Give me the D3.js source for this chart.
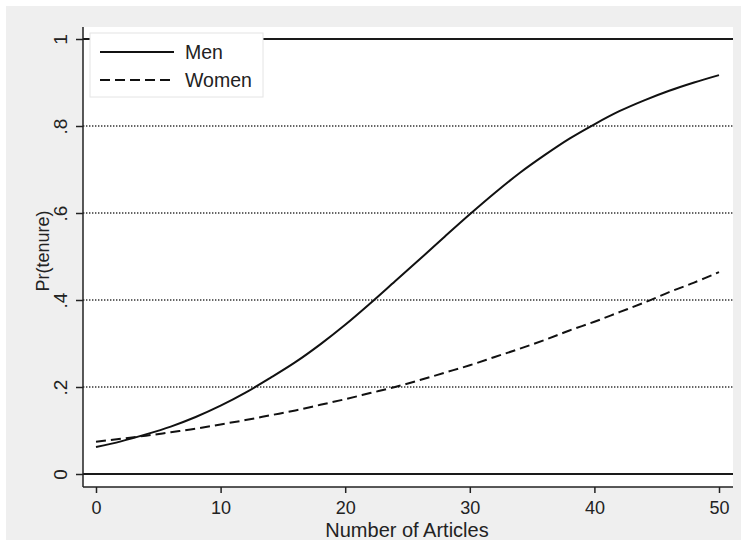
<!DOCTYPE html>
<html>
<head>
<meta charset="utf-8">
<script src="https://cdn.jsdelivr.net/npm/d3@7"></script>
<style>
  html, body { margin: 0; padding: 0; background: #ffffff; }
  svg { display: block; font-family: "Liberation Sans", Arial, sans-serif; }
</style>
</head>
<body>
<svg id="chart" width="741" height="540"></svg>
<script>
// Predicted probability of tenure by number of articles
const articles = [0, 2, 4, 6, 8, 10, 12, 14, 16, 18, 20, 22, 24, 26, 28, 30, 32, 34, 36, 38, 40, 42, 44, 46, 48, 50];
const men = [0.062, 0.075, 0.091, 0.109, 0.131, 0.157, 0.187, 0.221, 0.257, 0.298, 0.343, 0.392, 0.443, 0.494, 0.546, 0.597, 0.646, 0.692, 0.733, 0.771, 0.804, 0.834, 0.859, 0.881, 0.900, 0.917];
const women = [0.074, 0.081, 0.088, 0.096, 0.104, 0.114, 0.124, 0.135, 0.146, 0.159, 0.172, 0.186, 0.200, 0.216, 0.233, 0.250, 0.269, 0.288, 0.308, 0.330, 0.350, 0.372, 0.394, 0.418, 0.440, 0.464];
const xTicks = [0, 10, 20, 30, 40, 50];
const xTickLabels = ["0", "10", "20", "30", "40", "50"];
const yTicks = [0, 0.2, 0.4, 0.6, 0.8, 1];
const yTickLabels = ["0", ".2", ".4", ".6", ".8", "1"];
const seriesNames = ["Men", "Women"];

const FONT = '"Liberation Sans", Arial, sans-serif';
const svg = d3.select("#chart");
const W = 741, H = 540;

// outer graph region
svg.append("rect").attr("x", 6).attr("y", 6).attr("width", W - 6).attr("height", H - 6).attr("fill", "#efefef");

// plot region
const plot = { left: 83, right: 733, top: 27, bottom: 487 };
svg.append("rect")
  .attr("x", plot.left).attr("y", plot.top)
  .attr("width", plot.right - plot.left).attr("height", plot.bottom - plot.top)
  .attr("fill", "#ffffff");

const x = d3.scaleLinear().domain([0, 50]).range([96, 719]);
const y = d3.scaleLinear().domain([0, 1]).range([474, 39]);

// horizontal reference lines: solid at 0 and 1, dotted in between
yTicks.forEach(t => {
  const solid = (t === 0 || t === 1);
  svg.append("line")
    .attr("x1", plot.left).attr("x2", plot.right)
    .attr("y1", y(t)).attr("y2", y(t))
    .attr("stroke", solid ? "#1a1a1a" : "#333333")
    .attr("stroke-width", solid ? 2 : 1.4)
    .attr("stroke-dasharray", solid ? null : "1.4,1.6");
});

// y axis
const yAxis = d3.axisLeft(y).tickValues(yTicks).tickFormat((d, i) => yTickLabels[i]).tickSize(7).tickPadding(0);
const gy = svg.append("g").attr("transform", `translate(${plot.left},0)`).call(yAxis)
  .attr("font-family", FONT);
gy.select(".domain").attr("d", `M0,${plot.top}V${plot.bottom}`).attr("stroke", "#222").attr("stroke-width", 1.5);
gy.selectAll(".tick line").attr("stroke", "#222").attr("stroke-width", 1.5);
gy.selectAll(".tick text")
  .attr("font-size", 19).attr("fill", "#222")
  .attr("x", null).attr("dy", null)
  .attr("text-anchor", "middle")
  .attr("transform", "translate(-23,0) rotate(-90)")
  .attr("dominant-baseline", "central");

// x axis
const xAxis = d3.axisBottom(x).tickValues(xTicks).tickFormat((d, i) => xTickLabels[i]).tickSize(6).tickPadding(8);
const gx = svg.append("g").attr("transform", `translate(0,${plot.bottom})`).call(xAxis)
  .attr("font-family", FONT);
gx.select(".domain").attr("d", `M${plot.left},0H${plot.right}`).attr("stroke", "#222").attr("stroke-width", 1.5);
gx.selectAll(".tick line").attr("stroke", "#222").attr("stroke-width", 1.5);
gx.selectAll(".tick text").attr("font-size", 18).attr("fill", "#222");

// axis titles
svg.append("text")
  .attr("x", 407).attr("y", 537)
  .attr("text-anchor", "middle").attr("font-size", 20).attr("fill", "#222")
  .text("Number of Articles");
svg.append("text")
  .attr("transform", "translate(49,251) rotate(-90)")
  .attr("text-anchor", "middle").attr("font-size", 18).attr("fill", "#222")
  .text("Pr(tenure)");

// curves
const line = d3.line().x(d => x(d[0])).y(d => y(d[1])).curve(d3.curveCatmullRom.alpha(0.5));
svg.append("path")
  .datum(articles.map((a, i) => [a, men[i]]))
  .attr("d", line).attr("fill", "none").attr("stroke", "#111").attr("stroke-width", 2);
svg.append("path")
  .datum(articles.map((a, i) => [a, women[i]]))
  .attr("d", line).attr("fill", "none").attr("stroke", "#111").attr("stroke-width", 2)
  .attr("stroke-dasharray", "10,5");

// legend
const lg = svg.append("g");
lg.append("rect").attr("x", 90).attr("y", 33).attr("width", 173).attr("height", 64)
  .attr("fill", "#ffffff").attr("stroke", "#e4e4e4").attr("stroke-width", 1);
seriesNames.forEach((name, i) => {
  const ly = 52 + i * 28;
  lg.append("line").attr("x1", 100).attr("x2", 174).attr("y1", ly).attr("y2", ly)
    .attr("stroke", "#111").attr("stroke-width", 2)
    .attr("stroke-dasharray", i === 1 ? "10,5" : null);
  lg.append("text").attr("x", 185).attr("y", ly).attr("dominant-baseline", "central")
    .attr("font-size", 19.5).attr("fill", "#222").text(name);
});
</script>
</body>
</html>
